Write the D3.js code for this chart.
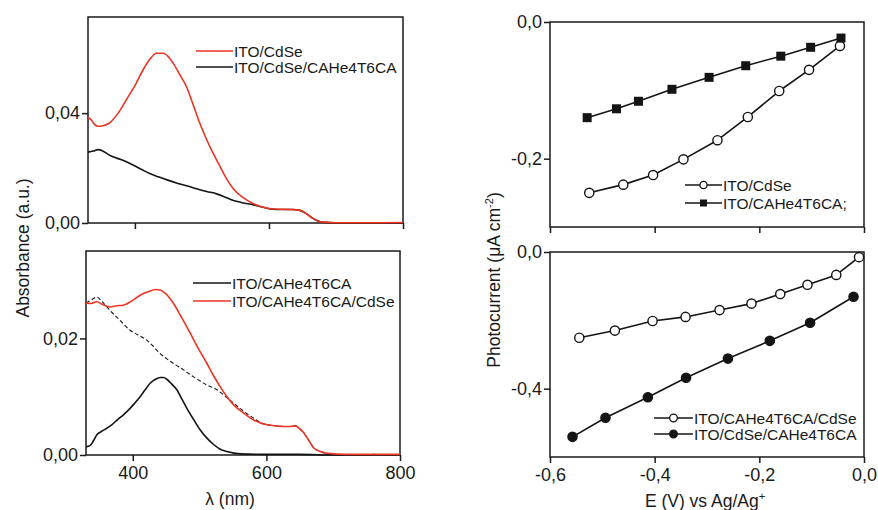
<!DOCTYPE html>
<html>
<head>
<meta charset="utf-8">
<script src="https://cdn.jsdelivr.net/npm/d3@7"></script>
<style>
  body { margin: 0; background: #fff; }
  svg { display: block; font-family: "Liberation Sans", Arial, Helvetica, sans-serif; }
  .axis path, .axis line { stroke: #1a1a1a; stroke-width: 1.5px; }
  .axis text { font-size: 18px; fill: #1a1a1a; font-family: "Liberation Sans", Arial, sans-serif; }
</style>
</head>
<body>
<svg id="chart" width="878" height="510"></svg>
<script>
// ---------- DATA ----------
// Top-left: absorbance spectra
const wlCdSe = [330,335,340,345,352,362,375,390,400,412,422,432,442,450,457,467,477,487,497,505,512,525,537,547,560,577,590,607,620,635,645,655,667,677,700,750,800];
const absCdSe = [0.0384,0.0375,0.0358,0.0352,0.0354,0.0364,0.0400,0.0460,0.0500,0.0557,0.0595,0.0618,0.0618,0.0605,0.0582,0.0540,0.0496,0.0430,0.0362,0.0315,0.0277,0.0215,0.0160,0.0124,0.0095,0.0070,0.0058,0.0051,0.0050,0.0049,0.0047,0.0035,0.0015,0.0004,0.0001,0.0001,0.0002];
const wlCdSeCA = [330,338,345,352,360,368,378,388,398,410,423,435,448,462,477,492,507,522,535,547,560,577,590,602,620,635,645,655,667,677,700,800];
const absCdSeCA = [0.0258,0.0262,0.0267,0.0262,0.0250,0.0240,0.0232,0.0222,0.0210,0.0195,0.0179,0.0168,0.0157,0.0146,0.0136,0.0125,0.0115,0.0106,0.0094,0.0082,0.0074,0.0066,0.0058,0.0051,0.0049,0.0049,0.0047,0.0035,0.0015,0.0004,0.0000,0.0000];

// Bottom-left: absorbance spectra
const wlCA = [330,336,341,346.5,354,361.5,369,376.5,386,396,403,411,418,426,434,441,446,451,458,466,473,481,491,501,511,521,531,541,561,600,650,700,800];
const absCA = [0.0014,0.0016,0.0024,0.0035,0.0041,0.0046,0.0052,0.0060,0.0069,0.0080,0.0089,0.0100,0.0111,0.0123,0.0130,0.0133,0.0133,0.0130,0.0122,0.0112,0.0097,0.0080,0.0061,0.0043,0.0029,0.0018,0.0010,0.0006,0.0002,0.0001,0.0001,0.0000,0.0000];
const wlCACdSe = [330,338,346,355,366,376,386,398,411,423,434,441,450,461,473,486,498,511,521,531,541,551,566,581,591,601,614,626,636,643,650,656,664,671,681,691,720,760,800];
const absCACdSe = [0.0261,0.0260,0.0263,0.0258,0.0254,0.0256,0.0257,0.0264,0.0274,0.0280,0.0284,0.0283,0.0276,0.0260,0.0236,0.0209,0.0183,0.0157,0.0136,0.0117,0.0100,0.0086,0.0072,0.0060,0.0055,0.0052,0.0050,0.0049,0.0049,0.0050,0.0045,0.0038,0.0024,0.0012,0.0006,0.0003,0.0001,0.0001,0.0001];
const wlDiff = [330,338,346,355,366,380,396,408,421,431,441,451,461,476,491,501,511,526,538,551,566,581,591,601,614,626,636,643,650,656,664,671,681,691,720,760,800];
const absDiff = [0.0261,0.0266,0.0271,0.0262,0.0248,0.0232,0.0214,0.0206,0.0197,0.0186,0.0174,0.0165,0.0157,0.0146,0.0134,0.0127,0.0120,0.0112,0.0101,0.0089,0.0075,0.0063,0.0056,0.0052,0.0050,0.0049,0.0049,0.0050,0.0045,0.0038,0.0024,0.0012,0.0006,0.0002,0.0000,0.0001,0.0000];

// Top-right: photocurrent
const eCdSe = [-0.525,-0.460,-0.403,-0.345,-0.280,-0.222,-0.162,-0.105,-0.046];
const iCdSe = [-0.250,-0.238,-0.224,-0.201,-0.173,-0.139,-0.101,-0.070,-0.035];
const eCAonly = [-0.529,-0.473,-0.431,-0.367,-0.296,-0.226,-0.159,-0.102,-0.044];
const iCAonly = [-0.140,-0.127,-0.116,-0.0985,-0.081,-0.064,-0.050,-0.037,-0.0235];

// Bottom-right: photocurrent
const eCACdSe = [-0.544,-0.476,-0.404,-0.341,-0.276,-0.215,-0.160,-0.108,-0.053,-0.0095];
const iCACdSe = [-0.251,-0.230,-0.202,-0.190,-0.170,-0.151,-0.123,-0.096,-0.067,-0.015];
const eCdSeCA = [-0.557,-0.494,-0.413,-0.340,-0.260,-0.180,-0.103,-0.020];
const iCdSeCA = [-0.541,-0.485,-0.425,-0.368,-0.312,-0.260,-0.207,-0.131];

// Tick values
const wlTicks = [400, 600, 800];
const eTicks = [-0.6, -0.4, -0.2, 0.0];
const absTicksTop = [0.00, 0.04];
const absTicksBottom = [0.00, 0.02];
const pcTicksTop = [0.0, -0.2];
const pcTicksBottom = [0.0, -0.4];

// ---------- DRAWING ----------
const RED = "#ee3524";
const BLACK = "#141414";
const svg = d3.select("#chart");

const comma = d => (v => Math.abs(v) < 1e-12 ? (0).toFixed(d) : v.toFixed(d));
function fmt(dec) { return v => comma(dec)(v).replace(".", ","); }

function panel(opts) {
  const x = d3.scaleLinear().domain(opts.xd).range([opts.x0, opts.x1]);
  const y = d3.scaleLinear().domain(opts.yd).range([opts.y1, opts.y0]);
  const g = svg.append("g");
  g.append("rect").attr("x", opts.x0).attr("y", opts.y0)
    .attr("width", opts.x1 - opts.x0).attr("height", opts.y1 - opts.y0)
    .attr("fill", "none").attr("stroke", "#1a1a1a").attr("stroke-width", 1.5);
  const xa = d3.axisBottom(x).tickValues(opts.xt).tickSizeInner(6).tickSizeOuter(0).tickPadding(5)
    .tickFormat(opts.xlab ? opts.xf : () => "");
  g.append("g").attr("class", "axis").attr("transform", `translate(0,${opts.y1})`).call(xa)
    .call(s => s.select(".domain").remove());
  const ya = d3.axisLeft(y).tickValues(opts.yt).tickSizeInner(6).tickSizeOuter(0).tickPadding(2)
    .tickFormat(opts.yf);
  g.append("g").attr("class", "axis").attr("transform", `translate(${opts.x0},0)`).call(ya)
    .call(s => s.select(".domain").remove());
  return {g, x, y};
}

function drawLine(p, xs, ys, color, dash, curve) {
  const pts = xs.map((v, i) => [v, ys[i]]);
  p.g.append("path").datum(pts)
    .attr("d", d3.line().x(d => p.x(d[0])).y(d => p.y(d[1])).curve(curve || d3.curveMonotoneX))
    .attr("fill", "none").attr("stroke", color).attr("stroke-width", dash ? 1.1 : 1.6)
    .attr("stroke-dasharray", dash || null).attr("stroke-linejoin", "round");
}

function drawMarkers(p, xs, ys, kind, size) {
  const pts = xs.map((v, i) => [v, ys[i]]);
  const sel = p.g.append("g").selectAll("x").data(pts).enter();
  if (kind === "square") {
    sel.append("rect").attr("x", d => p.x(d[0]) - size / 2).attr("y", d => p.y(d[1]) - size / 2)
      .attr("width", size).attr("height", size).attr("fill", BLACK);
  } else {
    sel.append("circle").attr("cx", d => p.x(d[0])).attr("cy", d => p.y(d[1])).attr("r", size)
      .attr("fill", kind === "open" ? "#fff" : BLACK).attr("stroke", BLACK).attr("stroke-width", 1.4);
  }
}

function legendLine(x0, x1, y, color, label, marker, msize) {
  svg.append("line").attr("x1", x0).attr("x2", x1).attr("y1", y).attr("y2", y)
    .attr("stroke", color).attr("stroke-width", 1.6);
  const mx = (x0 + x1) / 2;
  if (marker === "square") {
    svg.append("rect").attr("x", mx - msize / 2).attr("y", y - msize / 2).attr("width", msize).attr("height", msize).attr("fill", BLACK);
  } else if (marker) {
    svg.append("circle").attr("cx", mx).attr("cy", y).attr("r", msize)
      .attr("fill", marker === "open" ? "#fff" : BLACK).attr("stroke", BLACK).attr("stroke-width", 1.3);
  }
  svg.append("text").attr("x", x1 + 1).attr("y", y).attr("dy", "0.36em")
    .attr("font-size", 15.5).attr("fill", "#1a1a1a").text(label);
}

// Top-left
const pTL = panel({x0: 88, x1: 403, y0: 17, y1: 223, xd: [330, 800], yd: [0, 0.075],
  xt: wlTicks, yt: absTicksTop, xlab: false, yf: fmt(2)});
drawLine(pTL, wlCdSeCA, absCdSeCA, BLACK);
drawLine(pTL, wlCdSe, absCdSe, RED);
legendLine(196, 233, 51, RED, "ITO/CdSe");
legendLine(196, 233, 67, BLACK, "ITO/CdSe/CAHe4T6CA");

// Bottom-left
const pBL = panel({x0: 86, x1: 400, y0: 251, y1: 455, xd: [330, 800], yd: [0, 0.035],
  xt: wlTicks, yt: absTicksBottom, xlab: true, xf: d => d, yf: fmt(2)});
drawLine(pBL, wlDiff, absDiff, BLACK, "4,2.5");
drawLine(pBL, wlCA, absCA, BLACK);
drawLine(pBL, wlCACdSe, absCACdSe, RED);
legendLine(193, 231, 283, BLACK, "ITO/CAHe4T6CA");
legendLine(193, 231, 301, RED, "ITO/CAHe4T6CA/CdSe");

// Top-right
const pTR = panel({x0: 550, x1: 864, y0: 22, y1: 227, xd: [-0.6, 0], yd: [-0.3, 0],
  xt: eTicks, yt: pcTicksTop, xlab: false, yf: fmt(1)});
drawLine(pTR, eCdSe, iCdSe, BLACK, null, d3.curveLinear);
drawLine(pTR, eCAonly, iCAonly, BLACK, null, d3.curveLinear);
drawMarkers(pTR, eCdSe, iCdSe, "open", 4.6);
drawMarkers(pTR, eCAonly, iCAonly, "square", 9);
legendLine(685, 722, 185, BLACK, "ITO/CdSe", "open", 3.6);
legendLine(685, 722, 203, BLACK, "ITO/CAHe4T6CA;", "square", 7);

// Bottom-right
const pBR = panel({x0: 550, x1: 864, y0: 252, y1: 457, xd: [-0.6, 0], yd: [-0.6, 0],
  xt: eTicks, yt: pcTicksBottom, xlab: true, xf: fmt(1), yf: fmt(1)});
drawLine(pBR, eCACdSe, iCACdSe, BLACK, null, d3.curveLinear);
drawLine(pBR, eCdSeCA, iCdSeCA, BLACK, null, d3.curveLinear);
drawMarkers(pBR, eCACdSe, iCACdSe, "open", 4.6);
drawMarkers(pBR, eCdSeCA, iCdSeCA, "filled", 4.6);
legendLine(654, 693, 418, BLACK, "ITO/CAHe4T6CA/CdSe", "open", 3.8);
legendLine(654, 693, 434, BLACK, "ITO/CdSe/CAHe4T6CA", "filled", 3.8);

// Axis titles
svg.append("text").attr("transform", "translate(29,248) rotate(-90)")
  .attr("text-anchor", "middle").attr("font-size", 17.5).attr("fill", "#1a1a1a")
  .text("Absorbance (a.u.)");
svg.append("text").attr("x", 230).attr("y", 505).attr("text-anchor", "middle")
  .attr("font-size", 17.5).attr("fill", "#1a1a1a").text("λ (nm)");

const pcTitle = svg.append("text").attr("transform", "translate(500,280) rotate(-90)")
  .attr("text-anchor", "middle").attr("font-size", 17.5).attr("fill", "#1a1a1a");
pcTitle.append("tspan").text("Photocurrent (μA cm");
pcTitle.append("tspan").attr("dy", -7).attr("font-size", 11).text("-2");
pcTitle.append("tspan").attr("dy", 7).text(")");

const eTitle = svg.append("text").attr("x", 705).attr("y", 507).attr("text-anchor", "middle")
  .attr("font-size", 17.5).attr("fill", "#1a1a1a");
eTitle.append("tspan").text("E (V) vs Ag/Ag");
eTitle.append("tspan").attr("dy", -7).attr("font-size", 11).text("+");
</script>
</body>
</html>
